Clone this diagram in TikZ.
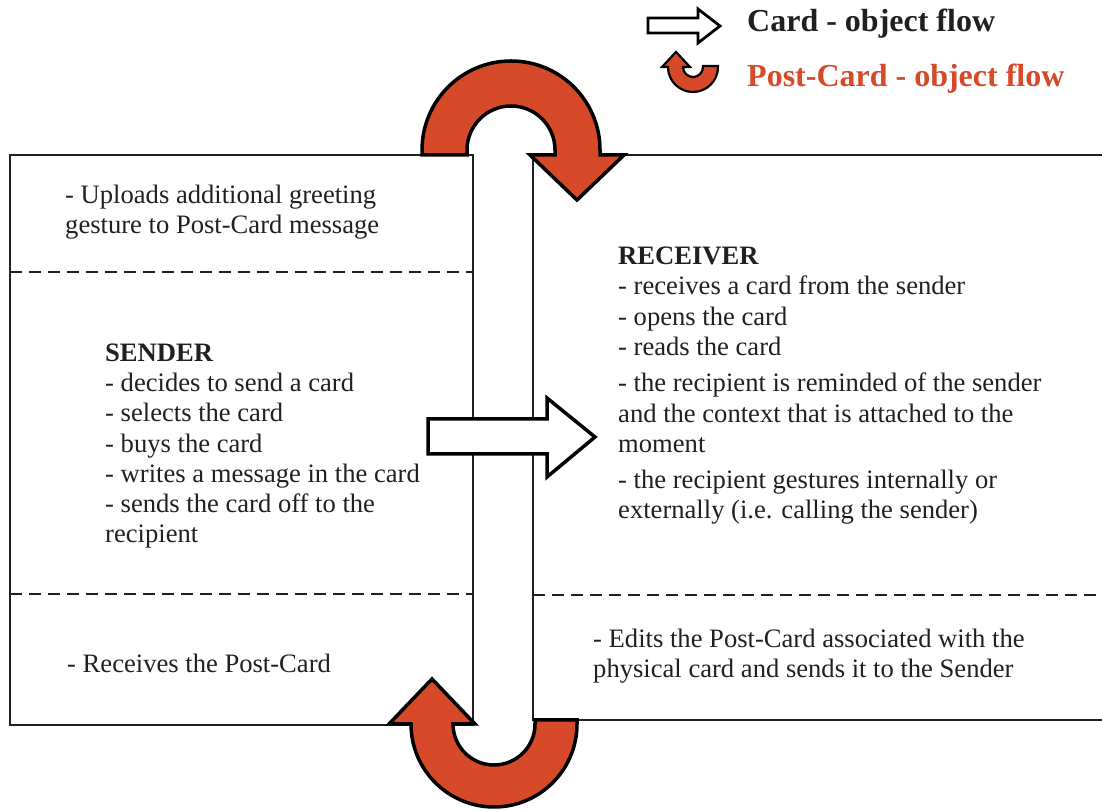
\documentclass[tikz,border=0pt]{standalone}
\usepackage{fontspec}
\setmainfont{Liberation Serif}
\definecolor{postred}{RGB}{214,74,42}
\definecolor{ink}{RGB}{32,32,32}
\tikzset{
  lane/.style={draw=ink,line width=1.8pt},
  divider/.style={draw=ink,line width=1.8pt,dash pattern=on 12pt off 7pt},
  txt/.style={anchor=base west,align=left,inner sep=0pt,text=ink,
              font=\fontsize{26.6}{30.3}\selectfont},
  legend/.style={anchor=base west,inner sep=0pt,text=ink,
              font=\fontsize{32}{36}\selectfont\bfseries},
  cardflow/.style={draw=black,fill=white,line width=3.5pt},
  postflow/.style={draw=black,fill=postred,line width=3.5pt}
}
\begin{document}
\begin{tikzpicture}[x=1pt,y=1pt]
\useasboundingbox (0,0) rectangle (1102,810);
% sender and receiver lanes
\draw[lane] (10,655) rectangle (473,85);
\draw[lane] (1102,655) -- (533,655) -- (533,90) -- (1102,90);
\draw[divider] (10,538) -- (473,538);
\draw[divider] (10,216) -- (473,216);
\draw[divider] (533,215) -- (1102,215);
% texts (placed at the baseline of their last line)
\node[txt] (upload) at (65,576) {- Uploads additional greeting\\gesture to Post-Card message};
\node[txt] (sender) at (105,267) {\textbf{SENDER}\\- decides to send a card\\- selects the card\\- buys the card\\- writes a message in the card\\- sends the card off to the\\recipient};
\node[txt] (receives) at (67,137) {- Receives the Post-Card};
\node[txt] (receiver) at (618,291) {\textbf{RECEIVER}\\- receives a card from the sender\\- opens the card\\- reads the card\\[6pt]- the recipient is reminded of the  sender\\and the context that is attached to the\\moment\\[6pt]- the recipient gestures internally or\\externally (i.e. calling the sender)};
\node[txt] (edits) at (593,132) {- Edits the Post-Card associated with the\\physical card and sends it to the Sender};
% card flow
\draw[cardflow] (428,391) -- (547,391) -- (547,412) -- (595,373) -- (547,333) -- (547,356) -- (428,356) -- cycle;
% post-card flow, top
\begin{scope}[shift={(511,660)}]
\draw[postflow] (-89,-5) -- (-89,0) arc[start angle=180,end angle=0,radius=89] -- (89,-5) -- (113,-5) -- (66,-50) -- (19,-5) -- (44,-5) -- (44,0) arc[start angle=0,end angle=180,radius=44] -- (-44,-5) -- cycle;
\end{scope}
% post-card flow, bottom
\begin{scope}[shift={(494,86)}]
\draw[postflow] (83,4) -- (83,0) arc[start angle=0,end angle=-180,radius=83] -- (-105,0) -- (-62,45) -- (-19,0) -- (-41,0) arc[start angle=180,end angle=360,radius=41] -- (41,4) -- cycle;
\end{scope}
% legend
\draw[cardflow,line width=2.8pt] (648,792) -- (698,792) -- (698,801) -- (720,784) -- (698,767) -- (698,777) -- (648,777) -- cycle;
\begin{scope}[shift={(693,743)}]
\draw[postflow,line width=2.2pt] (25,1) -- (25,0) arc[start angle=0,end angle=-180,radius=25] -- (-31,0) -- (-17,15) -- (-3,0) -- (-10,0) arc[start angle=180,end angle=360,radius=10] -- (10,1) -- cycle;
\end{scope}
\node[legend] (legcard) at (747,778) {Card - object flow};
\node[legend,text=postred] (legpost) at (747,723) {Post-Card - object flow};
\end{tikzpicture}
\end{document}
